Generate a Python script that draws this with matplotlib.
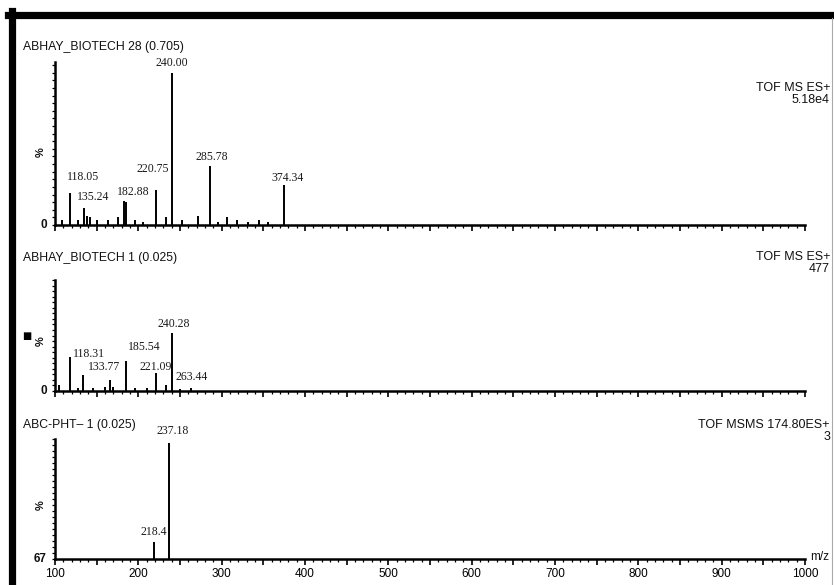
import matplotlib
matplotlib.use("Agg")
import matplotlib.pyplot as plt
from matplotlib.lines import Line2D
from matplotlib.ticker import MultipleLocator, FuncFormatter

# spectrum 1 : ABHAY_BIOTECH 28
mz_1 = [108, 118.05, 127, 135.24, 138, 142, 150, 163, 176, 182.88, 185.0,
        196, 205, 220.75, 233, 240.00, 252, 271, 285.78, 296, 306, 318,
        331, 345, 356, 374.34]
int_1 = [3, 21, 3, 11, 6, 5, 3, 3, 5, 16, 15,
         3, 2, 23, 5, 100, 3, 6, 39, 2, 5, 3,
         2, 3, 2, 26]
labels_1 = ["118.05", "135.24", "182.88", "220.75", "240.00", "285.78", "374.34"]

# spectrum 2 : ABHAY_BIOTECH 1
mz_2 = [105, 118.31, 128, 133.77, 145, 160, 166, 170, 185.54, 196, 210,
        221.09, 233, 240.28, 250, 263.44]
int_2 = [5, 31, 3, 14, 3, 4, 10, 4, 27, 3, 3,
         16, 5, 52, 2, 3]
labels_2 = ["118.31", "133.77", "185.54", "221.09", "240.28", "263.44"]

# spectrum 3 : ABC-PHT- 1 (MSMS)
mz_3 = [218.4, 237.18]
int_3 = [14, 97]
labels_3 = ["218.4", "237.18"]

titles = ["ABHAY_BIOTECH 28 (0.705)", "ABHAY_BIOTECH 1 (0.025)", "ABC-PHT\u2013 1 (0.025)"]
right_top = ["TOF MS ES+", "TOF MS ES+", "TOF MSMS 174.80ES+"]
right_bottom = ["5.18e4", "477", "3"]
base_labels = ["0", "0", "67"]

# label nudges in pixels (dx, dy) so the tags don't pile up
nudge_1 = {"118.05": (13, 10), "135.24": (9, 5), "182.88": (9, 3), "220.75": (-3, 15),
           "240.00": (0, 4), "285.78": (2, 3), "374.34": (4, 1)}
nudge_2 = {"118.31": (19, -3), "133.77": (21, 2), "185.54": (18, 8), "221.09": (0, 0),
           "240.28": (2, 3), "263.44": (0, 5)}
nudge_3 = {"218.4": (0, 4), "237.18": (3, 6)}

W, H = 834, 585
fig = plt.figure(figsize=(W / 100, H / 100), dpi=100)
fig.patch.set_facecolor("white")

SANS = "Liberation Sans"
SERIF = "Liberation Serif"


def px_box(left, top, right, bottom):
    return [left / W, 1 - bottom / H, (right - left) / W, (bottom - top) / H]


def draw_spectrum(ax, mz, inten, labels, nudge, ytop, show_xlabels):
    ax.vlines(mz, 0, inten, color="black", linewidth=1.4)
    for lab in labels:
        x = float(lab)
        y = inten[mz.index(x)]
        dx, dy = nudge[lab]
        ax.annotate(lab, (x, y), xytext=(dx, dy), textcoords="offset pixels",
                    ha="center", va="bottom", fontsize=8.5, family=SERIF,
                    color="#1a1a1a")
    ax.set_xlim(100, 1000)
    ax.set_ylim(0, ytop)
    for s in ["top", "right"]:
        ax.spines[s].set_visible(False)
    ax.spines["left"].set_linewidth(1.8)
    ax.spines["bottom"].set_linewidth(1.8)
    ax.xaxis.set_major_locator(MultipleLocator(50))
    ax.xaxis.set_minor_locator(MultipleLocator(10))
    ax.tick_params(axis="x", which="major", length=4.5, width=1.2, direction="out")
    ax.tick_params(axis="x", which="minor", length=2.5, width=0.9, direction="out")
    if show_xlabels:
        ax.xaxis.set_major_formatter(FuncFormatter(
            lambda v, p: "%d" % v if v % 100 == 0 else ""))
        ax.tick_params(axis="x", labelsize=8.5, pad=2)
        for t in ax.get_xticklabels():
            t.set_family(SANS)
    else:
        ax.set_xticklabels([])
    ax.set_yticks([])
    ax.yaxis.set_minor_locator(MultipleLocator(5))
    ax.tick_params(axis="y", which="minor", length=2.5, width=0.9, direction="out")
    ax.patch.set_alpha(0)


boxes = [px_box(55, 62, 805, 225), px_box(55, 280, 805, 391), px_box(55, 439, 805, 559)]
ytops = [107, 100, 100]
data = [(mz_1, int_1, labels_1, nudge_1), (mz_2, int_2, labels_2, nudge_2),
        (mz_3, int_3, labels_3, nudge_3)]
title_y = [47, 258, 425]
rt_y = [88, 257, 425]

for i in range(3):
    ax = fig.add_axes(boxes[i])
    mz, inten, labels, nudge = data[i]
    draw_spectrum(ax, mz, inten, labels, nudge, ytops[i], i == 2)

    left, b, w, h = boxes[i]
    fig.text(23 / W, 1 - title_y[i] / H, titles[i], ha="left", va="center",
             fontsize=8.8, family=SANS, color="#111111")
    fig.text(830 / W, 1 - rt_y[i] / H, right_top[i], ha="right", va="center",
             fontsize=9, family=SANS, color="#111111")
    fig.text(830 / W, 1 - (rt_y[i] + 12) / H, right_bottom[i], ha="right", va="center",
             fontsize=9, family=SANS, color="#111111")
    # zero / base label and the % sign
    fig.text(47 / W, b, base_labels[i], ha="right", va="center",
             fontsize=8.5, family=SANS, fontweight="bold", color="#111111")
    fig.text(41 / W, b + h * 0.45, "%", ha="center", va="center", rotation=90,
             fontsize=8, family=SANS, fontweight="bold", color="#111111")

fig.text(27 / W, 1 - 336 / H, "\u25a0", ha="center", va="center", fontsize=7,
         family="DejaVu Sans", color="black")
fig.text(810 / W, 1 - 557 / H, "m/z", ha="left", va="center", fontsize=8.5,
         family=SANS, color="#111111")

# outer frame: heavy top and left rules, thin grey right edge
fig.add_artist(Line2D([8 / W, 1], [1 - 14.5 / H, 1 - 14.5 / H], color="black",
                      linewidth=5.2, transform=fig.transFigure))
fig.add_artist(Line2D([12 / W, 12 / W], [1 - 11 / H, 0], color="black",
                      linewidth=5.2, transform=fig.transFigure))
fig.add_artist(Line2D([832 / W, 832 / W], [1 - 18 / H, 0], color="#aaaaaa",
                      linewidth=0.8, transform=fig.transFigure))

fig.savefig("out.png", dpi=100)
